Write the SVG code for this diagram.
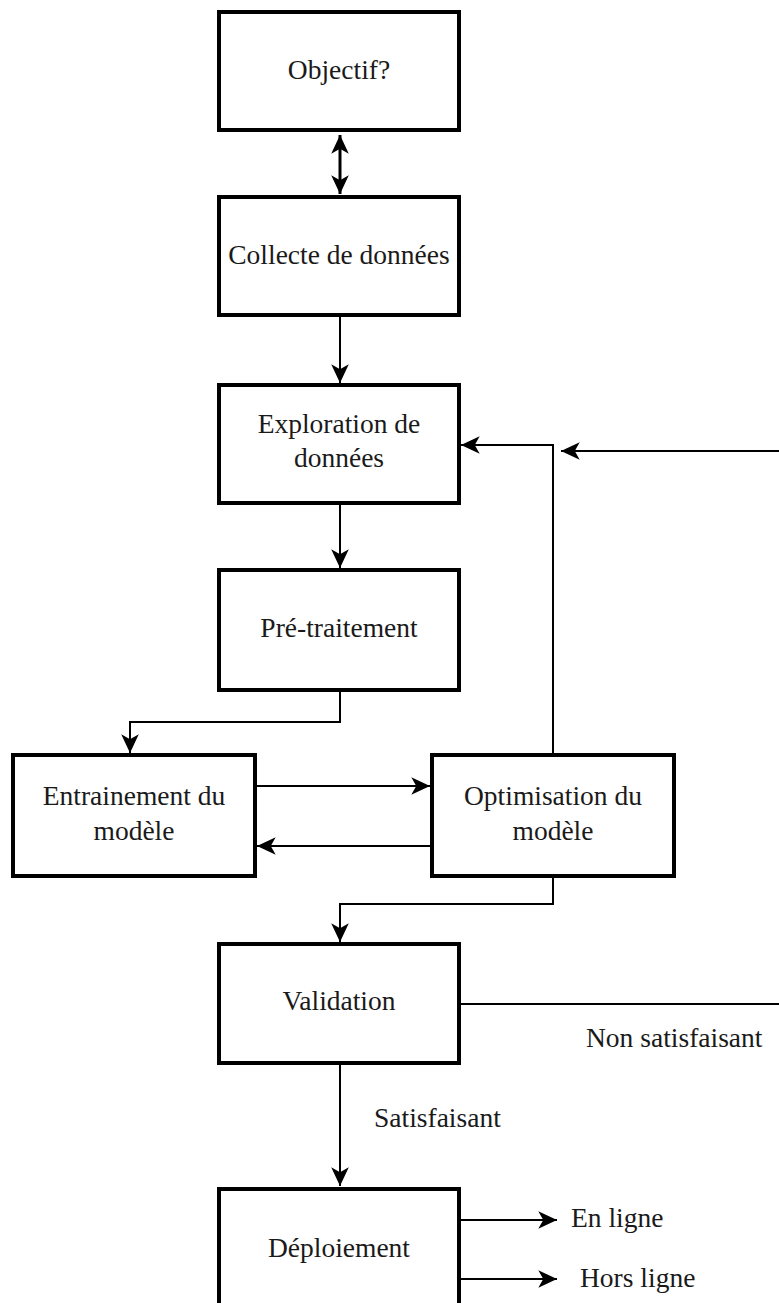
<svg xmlns="http://www.w3.org/2000/svg" width="779" height="1303" viewBox="0 0 779 1303">
<style>
.box{fill:#fff;stroke:#000;stroke-width:4}
text{font-family:'Liberation Serif','Times New Roman',Times,'DejaVu Serif',serif;font-size:27.5px;fill:#1a1a1a}
.t{text-anchor:middle}
.c{fill:none;stroke:#000;stroke-width:2}
.c3{fill:none;stroke:#000;stroke-width:3}
</style>
<defs>
<marker id="ah" markerUnits="userSpaceOnUse" markerWidth="22" markerHeight="22" viewBox="-18 -10 20 20" refX="0" refY="0" orient="auto-start-reverse">
<path d="M0,0 L-17,-8 L-12.5,0 L-17,8 Z" fill="#000"/>
</marker>
</defs>
<rect width="779" height="1303" fill="#fff"/>
<g id="connectors">
<line class="c3" x1="340" y1="135" x2="340" y2="194" marker-start="url(#ah)" marker-end="url(#ah)"/>
<line class="c" x1="340" y1="317" x2="340" y2="383" marker-end="url(#ah)"/>
<line class="c" x1="340" y1="505" x2="340" y2="568" marker-end="url(#ah)"/>
<polyline class="c" points="340,692 340,722 130,722 130,753" marker-end="url(#ah)"/>
<line class="c" x1="257" y1="786" x2="430" y2="786" marker-end="url(#ah)"/>
<line class="c" x1="430" y1="846" x2="257" y2="846" marker-end="url(#ah)"/>
<polyline class="c" points="553,753 553,445 461,445" marker-end="url(#ah)"/>
<line class="c" x1="779" y1="451" x2="561" y2="451" marker-end="url(#ah)"/>
<polyline class="c" points="553,878 553,904 340,904 340,942" marker-end="url(#ah)"/>
<line class="c" x1="461" y1="1004" x2="779" y2="1004"/>
<line class="c" x1="340" y1="1065" x2="340" y2="1186" marker-end="url(#ah)"/>
<line class="c" x1="461" y1="1220" x2="557" y2="1220" marker-end="url(#ah)"/>
<line class="c" x1="461" y1="1279" x2="557" y2="1279" marker-end="url(#ah)"/>
</g>
<g id="n-objectif"><rect class="box" x="219" y="12" width="240" height="118"/><text class="t" x="339" y="79">Objectif?</text></g>
<g id="n-collecte"><rect class="box" x="219" y="197" width="240" height="118"/><text class="t" x="339" y="264">Collecte de données</text></g>
<g id="n-exploration"><rect class="box" x="219" y="385" width="240" height="118"/><text class="t" x="339" y="433">Exploration de</text><text class="t" x="339" y="467">données</text></g>
<g id="n-pretraitement"><rect class="box" x="219" y="570" width="240" height="120"/><text class="t" x="339" y="637">Pré-traitement</text></g>
<g id="n-entrainement"><rect class="box" x="13" y="755" width="242" height="121"/><text class="t" x="134" y="805">Entrainement du</text><text class="t" x="134" y="840">modèle</text></g>
<g id="n-optimisation"><rect class="box" x="432" y="755" width="242" height="121"/><text class="t" x="553" y="805">Optimisation du</text><text class="t" x="553" y="840">modèle</text></g>
<g id="n-validation"><rect class="box" x="219" y="944" width="240" height="119"/><text class="t" x="339" y="1010">Validation</text></g>
<g id="n-deploiement"><rect class="box" x="219" y="1189" width="240" height="130"/><text class="t" x="339" y="1257">Déploiement</text></g>
<g id="labels">
<text x="586" y="1047">Non satisfaisant</text>
<text x="374" y="1127">Satisfaisant</text>
<text x="571" y="1227">En ligne</text>
<text x="580" y="1287">Hors ligne</text>
</g>
</svg>
